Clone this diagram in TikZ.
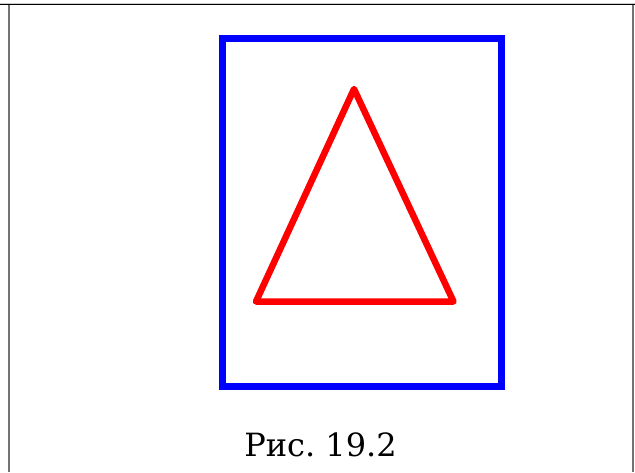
\documentclass[tikz,border=0pt]{standalone}
\usepackage{fontspec}
\setmainfont{DejaVu Serif}
\tikzset{
  frameline/.style={draw=black!55, line width=2.4pt},
  topline/.style={draw=black, line width=1.4pt},
  bluebox/.style={draw=blue, line width=7pt},
  redtri/.style={draw=red, line width=6.5pt, line join=round, line cap=round},
  caption/.style={font=\fontsize{32}{38}\selectfont, anchor=base, inner sep=0pt}
}
\begin{document}
\begin{tikzpicture}[x=1pt, y=-1pt]
\useasboundingbox[fill=white] (0,0) rectangle (635,472);
\draw[draw=black!20, line width=1pt] (0,3) -- (635,3);
\draw[topline] (0,4.5) -- (635,4.5);
\draw[frameline] (9,5) -- (9,472);
\draw[frameline] (633,5) -- (633,472);
\draw[bluebox] (222.6,38) rectangle (501,386.5);
\coordinate (A) at (354,89);
\coordinate (B) at (256,301.5);
\coordinate (C) at (453.5,301.5);
\draw[redtri] (A) -- (C) -- (B) -- cycle;
\node[caption] (cap) at (320.5,456) {Рис.\ 19.2};
\end{tikzpicture}
\end{document}
